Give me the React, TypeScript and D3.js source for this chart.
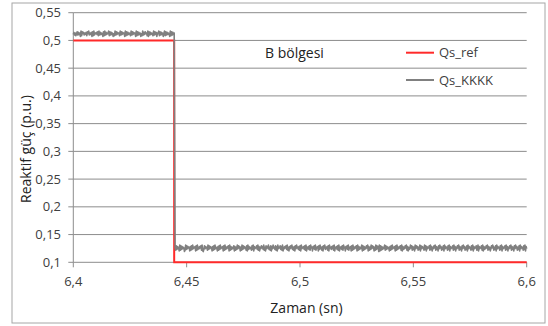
import React from "react";
import * as d3 from "d3";

const W = 548;
const H = 326;

const xTicks = [6.4, 6.45, 6.5, 6.55, 6.6];
const yTicks = [0.1, 0.15, 0.2, 0.25, 0.3, 0.35, 0.4, 0.45, 0.5, 0.55];

const stepTime = 6.4445;
const refHigh = 0.5;
const refLow = 0.1;

// Qs_KKKK noise read as digits 0..9 around each level (high segment, low segment)
const kkkkHighLevel = 0.5115;
const kkkkLowLevel = 0.1252;
const kkkkHighDigits =
  "4736258374619285736472859364718293657482937465182937465928374615293847562938475619283746529384756192" +
  "8374615293748562918374652938471659283746159283746519283746";
const kkkkLowDigits =
  "5283746192837465029384756172839465718293647582910384756293847561728394651728394657182936475819273645" +
  "8172639485716293847562819374652839174658392716485739261847593628174956382719465837291647583926174859" +
  "3627184956372819465738291647382956174839265718394627185936472819563748291657382916473829561748392657" +
  "1829364758192736459182736485917263948571629384709182736459283746517283946571829364758291736485927163" +
  "4958273619485726391847562938174658293716485927361849572638194756283917465829371648592736184957263819" +
  "4756283917465823917465829173648592736148597263819475628391746582937164859273618495726381947562839174";

const fmt = (v: number) => String(+v.toFixed(2)).replace(".", ",");

export default function App() {
  const left = 73.3;
  const right = 526.7;
  const top = 12.7;
  const bottom = 262.3;

  const x = d3.scaleLinear().domain([6.4, 6.6]).range([left, right]);
  const y = d3.scaleLinear().domain([0.1, 0.55]).range([bottom, top]);

  const refData: [number, number][] = [
    [6.4, refHigh],
    [stepTime, refHigh],
    [stepTime, refLow],
    [6.6, refLow],
  ];

  const hiTimes = d3.range(kkkkHighDigits.length).map(
    (i) => 6.4 + (i * (stepTime - 6.4)) / (kkkkHighDigits.length - 1)
  );
  const loTimes = d3.range(kkkkLowDigits.length).map(
    (i) => stepTime + 0.0004 + (i * (6.6 - stepTime - 0.0004)) / (kkkkLowDigits.length - 1)
  );
  const kkkkData: [number, number][] = [
    ...kkkkHighDigits.split("").map((d, i) => [hiTimes[i], kkkkHighLevel + (+d - 4.5) * 0.0012] as [number, number]),
    ...kkkkLowDigits.split("").map((d, i) => [loTimes[i], kkkkLowLevel + (+d - 4.5) * 0.0013] as [number, number]),
  ];

  const line = d3
    .line<[number, number]>()
    .x((d) => x(d[0]))
    .y((d) => y(d[1]));

  const textColor = "#404040";
  const gridColor = "#8c8c8c";
  const font = "'Open Sans', 'Noto Sans', sans-serif";

  return (
    <svg
      width={W}
      height={H}
      style={{ position: "absolute", left: 0, top: 0, background: "#fff" }}
      fontFamily={font}
    >
      <rect x={12} y={3} width={533} height={320} fill="#fff" stroke="#a6a6a6" strokeWidth={1} />
      {yTicks.map((t) => (
        <g key={t}>
          <line x1={left} x2={right} y1={y(t)} y2={y(t)} stroke={gridColor} strokeWidth={1} />
          <line x1={left - 5} x2={left} y1={y(t)} y2={y(t)} stroke={gridColor} strokeWidth={1} />
          <text x={61} y={y(t)} dy="0.35em" textAnchor="end" fontSize={13} fill={textColor}>
            {fmt(t)}
          </text>
        </g>
      ))}
      <line x1={left} x2={left} y1={top} y2={bottom} stroke={gridColor} strokeWidth={1} />
      {xTicks.map((t) => (
        <g key={t}>
          <line x1={x(t)} x2={x(t)} y1={bottom} y2={bottom + 5} stroke={gridColor} strokeWidth={1} />
          <text x={x(t)} y={286} textAnchor="middle" fontSize={13} fill={textColor}>
            {fmt(t)}
          </text>
        </g>
      ))}
      <path d={line(refData) || ""} fill="none" stroke="#ff2a2a" strokeWidth={2} />
      <path d={line(kkkkData) || ""} fill="none" stroke="#808080" strokeWidth={1.6} strokeLinejoin="round" />
      <text x={265} y={58} fontSize={14} fill="#222">B bölgesi</text>
      <line x1={406} x2={434} y1={52.7} y2={52.7} stroke="#ff2a2a" strokeWidth={2} />
      <text x={439} y={52.7} dy="0.35em" fontSize={13} fill={textColor}>Qs_ref</text>
      <line x1={406} x2={434} y1={80} y2={80} stroke="#808080" strokeWidth={2} />
      <text x={439} y={80} dy="0.35em" fontSize={13} fill={textColor}>Qs_KKKK</text>
      <text x={306.5} y={313} textAnchor="middle" fontSize={14} fill="#222">Zaman (sn)</text>
      <text
        transform={`translate(31,149) rotate(-90)`}
        textAnchor="middle"
        fontSize={14}
        fill="#222"
      >
        Reaktif güç (p.u.)
      </text>
    </svg>
  );
}
